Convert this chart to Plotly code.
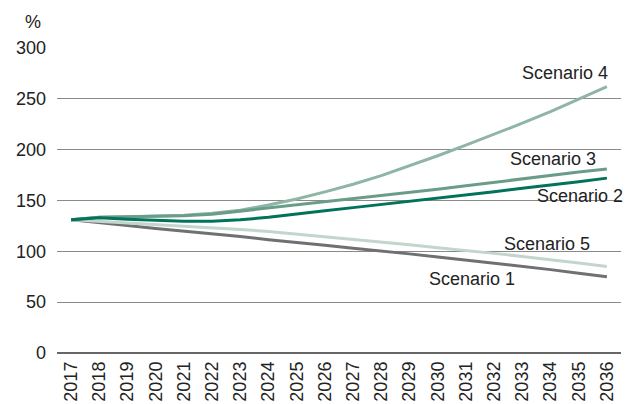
import plotly.graph_objects as go

years = [str(y) for y in range(2017, 2037)]

scenario_1 = [131, 128.5, 125.5, 122.5, 120, 117, 114.5, 111.5, 109, 106, 103, 100.5,
              97.5, 94.5, 91.5, 88.5, 85, 82, 78.5, 75]
scenario_2 = [131, 133, 131.5, 130.5, 129.5, 129.5, 131, 133.5, 137, 140, 143, 146,
              149.5, 152.5, 155.5, 158.5, 162, 165, 168.5, 172]
scenario_3 = [131, 133.5, 134, 134.5, 135, 136.5, 139.5, 142.5, 145.5, 148.5, 151.5, 154.5,
              157.5, 161, 164.5, 168, 171, 174.5, 178, 181]
scenario_4 = [131, 133.5, 134, 134.5, 135.5, 137.5, 140.5, 145.5, 151.5, 158.5, 166, 174.5,
              184, 194, 204.5, 215, 226, 237.5, 249.5, 262]
scenario_5 = [131, 129.5, 128, 126.5, 125, 123, 121.5, 119.5, 117, 114.5, 112, 109,
              106.5, 103.5, 101, 98, 95, 92, 88.5, 85]

y_ticks = [0, 50, 100, 150, 200, 250, 300]

series = [
    ("Scenario 1", scenario_1, "#6f6f74"),
    ("Scenario 5", scenario_5, "#c3d5cd"),
    ("Scenario 4", scenario_4, "#8fb5a5"),
    ("Scenario 3", scenario_3, "#6a9d89"),
    ("Scenario 2", scenario_2, "#00735a"),
]

fig = go.Figure()
for name, vals, col in series:
    fig.add_trace(go.Scatter(x=years, y=vals, mode="lines", name=name,
                             line=dict(color=col, width=3)))

font = dict(family="Liberation Sans, Arial, sans-serif", size=18, color="#222222")

labels = [
    ("Scenario 4", 0.9805, 0.918),
    ("Scenario 3", 0.959, 0.636),
    ("Scenario 2", 1.007, 0.515),
    ("Scenario 5", 0.9486, 0.357),
    ("Scenario 1", 0.8156, 0.243),
]
for txt, x, y in labels:
    fig.add_annotation(text=txt, x=x, y=y, xref="paper", yref="paper",
                       xanchor="right", yanchor="middle", showarrow=False, font=font)

fig.add_annotation(text="%", x=(33 - 57) / 564, y=(353 - 22) / 305, xref="paper",
                   yref="paper", xanchor="center", yanchor="middle", showarrow=False,
                   font=font)

fig.update_layout(
    width=627, height=404,
    margin=dict(l=57, r=6, t=48, b=51, autoexpand=False),
    paper_bgcolor="white", plot_bgcolor="white",
    showlegend=False,
    font=font,
    xaxis=dict(type="category", range=[-0.5, 19.5], showgrid=False, zeroline=False,
               showline=False, automargin=False,
               tickangle=-90, ticks="", tickfont=font, ticklabelstandoff=4),
    yaxis=dict(range=[0, 300], tickvals=y_ticks, showgrid=True, gridcolor="#8a8a8a",
               gridwidth=1, zeroline=True, zerolinecolor="#666666", zerolinewidth=2,
               automargin=False,
               ticks="", tickfont=font, ticklabelstandoff=10, showline=False),
)

fig.write_html("out.html", config={"displayModeBar": False},
               post_script="document.body.style.margin='0';document.body.style.overflow='hidden';")
